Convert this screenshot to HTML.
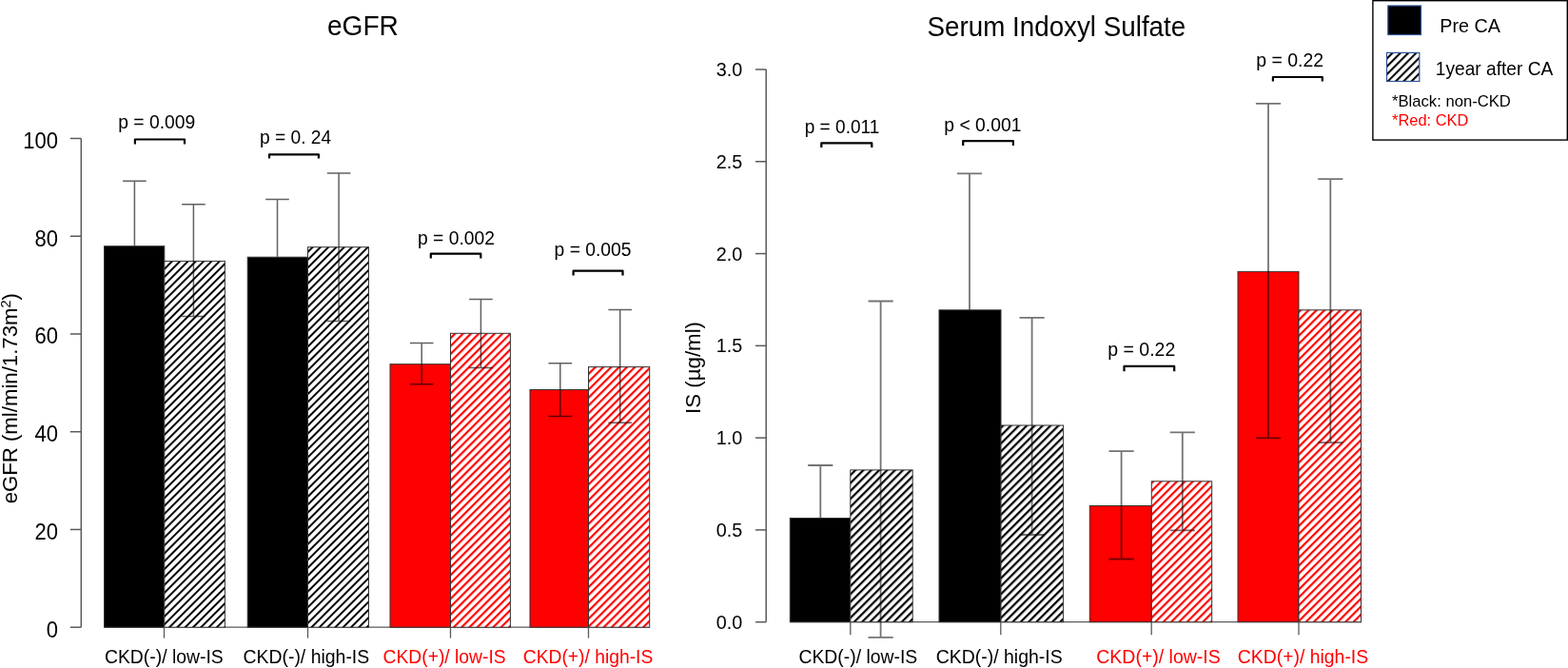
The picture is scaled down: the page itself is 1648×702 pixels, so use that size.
<!DOCTYPE html><html><head><meta charset="utf-8"><style>html,body{margin:0;padding:0;background:#fff;}svg{display:block;}</style></head><body>
<svg width="1648" height="702" viewBox="0 0 1648 702" font-family='"Liberation Sans", Arial, sans-serif'>
<defs>
<pattern id="hkL" patternUnits="userSpaceOnUse" width="5.8690" height="20" patternTransform="rotate(45) translate(4.1619,0)"><rect x="0" y="0" width="2.0" height="20" fill="#000"/></pattern>
<pattern id="hrL" patternUnits="userSpaceOnUse" width="5.8690" height="20" patternTransform="rotate(45) translate(4.0619,0)"><rect x="0" y="0" width="2.2" height="20" fill="#ff0000"/></pattern>
<pattern id="hkR" patternUnits="userSpaceOnUse" width="5.8902" height="20" patternTransform="rotate(45) translate(0.3246,0)"><rect x="0" y="0" width="2.25" height="20" fill="#000"/></pattern>
<pattern id="hrR" patternUnits="userSpaceOnUse" width="5.8902" height="20" patternTransform="rotate(45) translate(0.3496,0)"><rect x="0" y="0" width="2.2" height="20" fill="#ff0000"/></pattern>
<pattern id="hl" patternUnits="userSpaceOnUse" width="5.8690" height="20" patternTransform="rotate(45) translate(5.0311,0)"><rect x="0" y="0" width="2.1" height="20" fill="#000"/></pattern>
</defs>
<rect width="1648" height="702" fill="#fff"/>
<line x1="85.3" y1="145.5000000000001" x2="85.3" y2="659.2" stroke="#5a5a5a" stroke-width="1.5"/>
<line x1="73.8" y1="659.2" x2="85.3" y2="659.2" stroke="#5a5a5a" stroke-width="1.5"/>
<text transform="translate(60.95,669.70) scale(1,1.06)" font-size="22" fill="#000" text-anchor="end" >0</text>
<line x1="73.8" y1="556.46" x2="85.3" y2="556.46" stroke="#5a5a5a" stroke-width="1.5"/>
<text transform="translate(60.95,566.96) scale(1,1.06)" font-size="22" fill="#000" text-anchor="end" >20</text>
<line x1="73.8" y1="453.72" x2="85.3" y2="453.72" stroke="#5a5a5a" stroke-width="1.5"/>
<text transform="translate(60.95,464.22) scale(1,1.06)" font-size="22" fill="#000" text-anchor="end" >40</text>
<line x1="73.8" y1="350.9800000000001" x2="85.3" y2="350.9800000000001" stroke="#5a5a5a" stroke-width="1.5"/>
<text transform="translate(60.95,361.48) scale(1,1.06)" font-size="22" fill="#000" text-anchor="end" >60</text>
<line x1="73.8" y1="248.24000000000007" x2="85.3" y2="248.24000000000007" stroke="#5a5a5a" stroke-width="1.5"/>
<text transform="translate(60.95,258.74) scale(1,1.06)" font-size="22" fill="#000" text-anchor="end" >80</text>
<line x1="73.8" y1="145.5000000000001" x2="85.3" y2="145.5000000000001" stroke="#5a5a5a" stroke-width="1.5"/>
<text transform="translate(60.95,156.00) scale(1,1.06)" font-size="22" fill="#000" text-anchor="end" >100</text>
<line x1="109.5" y1="659.2" x2="683" y2="659.2" stroke="#5a5a5a" stroke-width="1.3"/>
<rect x="109.5" y="258.7" width="63.30" height="400.50" fill="#000" stroke="#333333" stroke-width="1"/>
<rect x="172.8" y="274.4" width="63.60" height="384.80" fill="#fff"/>
<rect x="172.8" y="274.4" width="63.60" height="384.80" fill="url(#hkL)" stroke="#333333" stroke-width="1"/>
<rect x="260.2" y="270.2" width="63.30" height="389.00" fill="#000" stroke="#333333" stroke-width="1"/>
<rect x="323.5" y="259.7" width="64.00" height="399.50" fill="#fff"/>
<rect x="323.5" y="259.7" width="64.00" height="399.50" fill="url(#hkL)" stroke="#333333" stroke-width="1"/>
<rect x="410.0" y="382.7" width="63.50" height="276.50" fill="#ff0000" stroke="#333333" stroke-width="1"/>
<rect x="473.5" y="350.29999999999995" width="62.90" height="308.90" fill="#fff"/>
<rect x="473.5" y="350.29999999999995" width="62.90" height="308.90" fill="url(#hrL)" stroke="#333333" stroke-width="1"/>
<rect x="557.0" y="409.5" width="61.50" height="249.70" fill="#ff0000" stroke="#333333" stroke-width="1"/>
<rect x="618.5" y="385.59999999999997" width="64.20" height="273.60" fill="#fff"/>
<rect x="618.5" y="385.59999999999997" width="64.20" height="273.60" fill="url(#hrL)" stroke="#333333" stroke-width="1"/>
<path d="M129.1 190.3H153.70000000000002M141.4 190.3V258.3" stroke="#000" stroke-opacity="0.62" stroke-width="1.5" fill="none"/>
<path d="M191.1 214.8H215.70000000000002M203.4 214.8V332.4M191.1 332.4H215.70000000000002" stroke="#000" stroke-opacity="0.62" stroke-width="1.5" fill="none"/>
<path d="M279.2 209.5H303.8M291.5 209.5V269.8" stroke="#000" stroke-opacity="0.62" stroke-width="1.5" fill="none"/>
<path d="M343.8 182.1H368.40000000000003M356.1 182.1V337.4M343.8 337.4H368.40000000000003" stroke="#000" stroke-opacity="0.62" stroke-width="1.5" fill="none"/>
<path d="M430.9 360.5H455.5M443.2 360.5V403.7M430.9 403.7H455.5" stroke="#000" stroke-opacity="0.62" stroke-width="1.5" fill="none"/>
<path d="M493.09999999999997 314.5H517.6999999999999M505.4 314.5V386.4M493.09999999999997 386.4H517.6999999999999" stroke="#000" stroke-opacity="0.62" stroke-width="1.5" fill="none"/>
<path d="M576.5 381.8H601.0999999999999M588.8 381.8V437.5M576.5 437.5H601.0999999999999" stroke="#000" stroke-opacity="0.62" stroke-width="1.5" fill="none"/>
<path d="M639.4000000000001 325.4H664.0M651.7 325.4V444.3M639.4000000000001 444.3H664.0" stroke="#000" stroke-opacity="0.62" stroke-width="1.5" fill="none"/>
<line x1="172.5" y1="659.2" x2="172.5" y2="670.6" stroke="#5a5a5a" stroke-width="1.3"/>
<line x1="323.5" y1="659.2" x2="323.5" y2="670.6" stroke="#5a5a5a" stroke-width="1.3"/>
<line x1="473.5" y1="659.2" x2="473.5" y2="670.6" stroke="#5a5a5a" stroke-width="1.3"/>
<line x1="618.5" y1="659.2" x2="618.5" y2="670.6" stroke="#5a5a5a" stroke-width="1.3"/>
<text transform="translate(109.90,697.30) scale(1,1.04)" font-size="19.38" fill="#000" text-anchor="start" >CKD(-)/ low-IS</text>
<text transform="translate(255.40,697.30) scale(1,1.04)" font-size="19.44" fill="#000" text-anchor="start" >CKD(-)/ high-IS</text>
<text transform="translate(402.60,697.30) scale(1,1.04)" font-size="19.28" fill="#ff0000" text-anchor="start" >CKD(+)/ low-IS</text>
<text transform="translate(549.70,697.30) scale(1,1.04)" font-size="19.3" fill="#ff0000" text-anchor="start" >CKD(+)/ high-IS</text>
<text transform="translate(124.30,134.95) scale(1,1.04)" font-size="19.29" fill="#000" text-anchor="start" >p = 0.009</text>
<text transform="translate(273.00,150.60) scale(1,1.04)" font-size="19.18" fill="#000" text-anchor="start" >p = 0. 24</text>
<text transform="translate(439.00,256.65) scale(1,1.04)" font-size="19.29" fill="#000" text-anchor="start" >p = 0.002</text>
<text transform="translate(582.60,268.65) scale(1,1.04)" font-size="19.29" fill="#000" text-anchor="start" >p = 0.005</text>
<path d="M141.9 151.6 L141.9 146.5 L194.0 146.5 L194.0 151.6" fill="none" stroke="#000" stroke-width="2.2" stroke-linejoin="round"/>
<path d="M283.0 166.6 L283.0 162.4 L334.9 162.4 L334.9 166.6" fill="none" stroke="#000" stroke-width="2.2" stroke-linejoin="round"/>
<path d="M452.8 271.6 L452.8 266.7 L505.3 266.7 L505.3 271.6" fill="none" stroke="#000" stroke-width="2.2" stroke-linejoin="round"/>
<path d="M602.6 289.6 L602.6 284.7 L654.5 284.7 L654.5 289.6" fill="none" stroke="#000" stroke-width="2.2" stroke-linejoin="round"/>
<text transform="translate(344.00,37.20) scale(1,1.05)" font-size="28.08" fill="#000" text-anchor="start" >eGFR</text>
<text transform="translate(18,418.7) rotate(-90)" font-size="22.2" text-anchor="middle" fill="#000">eGFR (ml/min/1.73m<tspan font-size="14.5" dy="-6.8">2</tspan><tspan dy="6.8">)</tspan></text>
<line x1="805.2" y1="72.99000000000001" x2="805.2" y2="653.7" stroke="#5a5a5a" stroke-width="1.5"/>
<line x1="794" y1="653.7" x2="805.2" y2="653.7" stroke="#5a5a5a" stroke-width="1.5"/>
<text transform="translate(780.20,660.70) scale(1,1.04)" font-size="19.8" fill="#000" text-anchor="end" >0.0</text>
<line x1="794" y1="556.9150000000001" x2="805.2" y2="556.9150000000001" stroke="#5a5a5a" stroke-width="1.5"/>
<text transform="translate(780.20,563.92) scale(1,1.04)" font-size="19.8" fill="#000" text-anchor="end" >0.5</text>
<line x1="794" y1="460.13000000000005" x2="805.2" y2="460.13000000000005" stroke="#5a5a5a" stroke-width="1.5"/>
<text transform="translate(780.20,467.13) scale(1,1.04)" font-size="19.8" fill="#000" text-anchor="end" >1.0</text>
<line x1="794" y1="363.345" x2="805.2" y2="363.345" stroke="#5a5a5a" stroke-width="1.5"/>
<text transform="translate(780.20,370.35) scale(1,1.04)" font-size="19.8" fill="#000" text-anchor="end" >1.5</text>
<line x1="794" y1="266.56000000000006" x2="805.2" y2="266.56000000000006" stroke="#5a5a5a" stroke-width="1.5"/>
<text transform="translate(780.20,273.56) scale(1,1.04)" font-size="19.8" fill="#000" text-anchor="end" >2.0</text>
<line x1="794" y1="169.7750000000001" x2="805.2" y2="169.7750000000001" stroke="#5a5a5a" stroke-width="1.5"/>
<text transform="translate(780.20,176.78) scale(1,1.04)" font-size="19.8" fill="#000" text-anchor="end" >2.5</text>
<line x1="794" y1="72.99000000000001" x2="805.2" y2="72.99000000000001" stroke="#5a5a5a" stroke-width="1.5"/>
<text transform="translate(780.20,79.99) scale(1,1.04)" font-size="19.8" fill="#000" text-anchor="end" >3.0</text>
<line x1="830.3" y1="653.7" x2="1430.5" y2="653.7" stroke="#5a5a5a" stroke-width="1.3"/>
<rect x="830.3" y="544.5" width="63.50" height="109.20" fill="#000" stroke="#333333" stroke-width="1"/>
<rect x="893.8" y="493.9" width="65.40" height="159.80" fill="#fff"/>
<rect x="893.8" y="493.9" width="65.40" height="159.80" fill="url(#hkR)" stroke="#333333" stroke-width="1"/>
<rect x="987.0" y="325.79999999999995" width="65.00" height="327.90" fill="#000" stroke="#333333" stroke-width="1"/>
<rect x="1052.0" y="447.0" width="65.60" height="206.70" fill="#fff"/>
<rect x="1052.0" y="447.0" width="65.60" height="206.70" fill="url(#hkR)" stroke="#333333" stroke-width="1"/>
<rect x="1145.3" y="531.5" width="65.00" height="122.20" fill="#ff0000" stroke="#333333" stroke-width="1"/>
<rect x="1210.3" y="505.79999999999995" width="63.40" height="147.90" fill="#fff"/>
<rect x="1210.3" y="505.79999999999995" width="63.40" height="147.90" fill="url(#hrR)" stroke="#333333" stroke-width="1"/>
<rect x="1301.0" y="285.4" width="64.00" height="368.30" fill="#ff0000" stroke="#333333" stroke-width="1"/>
<rect x="1365.0" y="325.79999999999995" width="65.50" height="327.90" fill="#fff"/>
<rect x="1365.0" y="325.79999999999995" width="65.50" height="327.90" fill="url(#hrR)" stroke="#333333" stroke-width="1"/>
<path d="M849.1999999999999 489.0H875.4M862.3 489.0V544.1" stroke="#000" stroke-opacity="0.55" stroke-width="1.8" fill="none"/>
<path d="M912.5 316.5H938.7M925.6 316.5V669.9M912.5 669.9H938.7" stroke="#000" stroke-opacity="0.55" stroke-width="1.8" fill="none"/>
<path d="M1005.9 182.3H1032.1M1019.0 182.3V325.4" stroke="#000" stroke-opacity="0.55" stroke-width="1.8" fill="none"/>
<path d="M1071.5 333.9H1097.6999999999998M1084.6 333.9V562.0M1071.5 562.0H1097.6999999999998" stroke="#000" stroke-opacity="0.55" stroke-width="1.8" fill="none"/>
<path d="M1165.5 474.2H1191.6999999999998M1178.6 474.2V587.5M1165.5 587.5H1191.6999999999998" stroke="#000" stroke-opacity="0.55" stroke-width="1.8" fill="none"/>
<path d="M1229.7 454.3H1255.8999999999999M1242.8 454.3V557.4M1229.7 557.4H1255.8999999999999" stroke="#000" stroke-opacity="0.55" stroke-width="1.8" fill="none"/>
<path d="M1319.9 108.8H1346.1M1333.0 108.8V460.4M1319.9 460.4H1346.1" stroke="#000" stroke-opacity="0.55" stroke-width="1.8" fill="none"/>
<path d="M1385.2 188.2H1411.3999999999999M1398.3 188.2V465.2M1385.2 465.2H1411.3999999999999" stroke="#000" stroke-opacity="0.55" stroke-width="1.8" fill="none"/>
<line x1="893.8" y1="653.7" x2="893.8" y2="667.2" stroke="#5a5a5a" stroke-width="1.3"/>
<line x1="1051.8" y1="653.7" x2="1051.8" y2="667.2" stroke="#5a5a5a" stroke-width="1.3"/>
<line x1="1210.2" y1="653.7" x2="1210.2" y2="667.2" stroke="#5a5a5a" stroke-width="1.3"/>
<line x1="1365.0" y1="653.7" x2="1365.0" y2="667.2" stroke="#5a5a5a" stroke-width="1.3"/>
<text transform="translate(839.40,697.45) scale(1,1.04)" font-size="19.38" fill="#000" text-anchor="start" >CKD(-)/ low-IS</text>
<text transform="translate(983.70,697.45) scale(1,1.04)" font-size="19.46" fill="#000" text-anchor="start" >CKD(-)/ high-IS</text>
<text transform="translate(1152.30,697.45) scale(1,1.04)" font-size="19.49" fill="#ff0000" text-anchor="start" >CKD(+)/ low-IS</text>
<text transform="translate(1300.80,697.45) scale(1,1.04)" font-size="19.4" fill="#ff0000" text-anchor="start" >CKD(+)/ high-IS</text>
<text transform="translate(845.70,139.80) scale(1,1.04)" font-size="19.08" fill="#000" text-anchor="start" >p = 0.011</text>
<text transform="translate(992.30,137.50) scale(1,1.04)" font-size="19.32" fill="#000" text-anchor="start" >p &lt; 0.001</text>
<text transform="translate(1164.20,374.30) scale(1,1.04)" font-size="19.52" fill="#000" text-anchor="start" >p = 0.22</text>
<text transform="translate(1320.20,70.15) scale(1,1.04)" font-size="19.49" fill="#000" text-anchor="start" >p = 0.22</text>
<path d="M863.3 155.1 L863.3 150.4 L916.3 150.4 L916.3 155.1" fill="none" stroke="#000" stroke-width="2.2" stroke-linejoin="round"/>
<path d="M1012.2 153.1 L1012.2 148.2 L1064.9 148.2 L1064.9 153.1" fill="none" stroke="#000" stroke-width="2.2" stroke-linejoin="round"/>
<path d="M1181.5 390.2 L1181.5 384.9 L1234.2 384.9 L1234.2 390.2" fill="none" stroke="#000" stroke-width="2.2" stroke-linejoin="round"/>
<path d="M1337.9 85.6 L1337.9 81 L1389.8 81 L1389.8 85.6" fill="none" stroke="#000" stroke-width="2.2" stroke-linejoin="round"/>
<text transform="translate(974.50,37.64) scale(1,1.047)" font-size="27.78" fill="#000" text-anchor="start" >Serum Indoxyl Sulfate</text>
<text transform="translate(736.4,386.5) rotate(-90) scale(1,1.03)" font-size="22.3" text-anchor="middle" fill="#000">IS (µg/ml)</text>
<rect x="1442.9" y="0.7" width="204.4" height="146.4" fill="#fff" stroke="#000" stroke-width="1.4"/>
<rect x="1458.8" y="6" width="34.7" height="30.5" fill="#000" stroke="#2f5597" stroke-width="1.2"/>
<rect x="1457.5" y="55.4" width="34.3" height="30.1" fill="#fff"/>
<rect x="1457.5" y="55.4" width="34.3" height="30.1" fill="url(#hl)" stroke="#2f5597" stroke-width="1.2"/>
<text transform="translate(1513.30,33.80) scale(1,1.04)" font-size="19.74" fill="#000" text-anchor="start" >Pre CA</text>
<text transform="translate(1508.80,79.10) scale(1,1.04)" font-size="19.17" fill="#000" text-anchor="start" >1year after CA</text>
<text transform="translate(1463.00,111.60) scale(1,1.04)" font-size="16.65" fill="#000" text-anchor="start" >*Black: non-CKD</text>
<text transform="translate(1463.00,132.00) scale(1,1.04)" font-size="16.44" fill="#ff0000" text-anchor="start" >*Red: CKD</text>
</svg></body></html>
